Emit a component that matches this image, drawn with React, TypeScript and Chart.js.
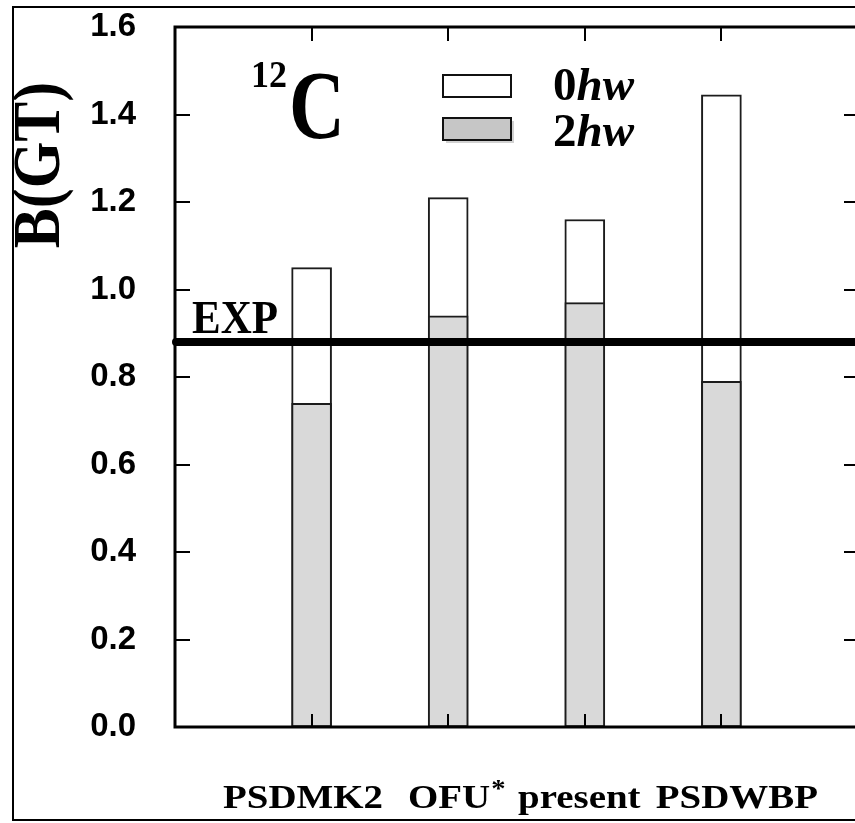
import { useEffect, useRef } from "react";
import { Chart, registerables } from "chart.js";

Chart.register(...registerables);

// Gamow-Teller strength B(GT) for 12C, split into 0hw and 2hw contributions
const categories = ["PSDMK2", "OFU*", "present", "PSDWBP"];
const categoryPositions = [1, 2, 3, 4];
const zeroHwTotal = [1.05, 1.21, 1.16, 1.445];
const twoHwPart = [0.74, 0.94, 0.97, 0.79];
const expValue = 0.88;
const seriesNames = ["0hw", "2hw"];
const yMin = 0;
const yMax = 1.6;
const yStep = 0.2;
const xMin = 0;
const xMax = 5;

const SERIF = '"Liberation Serif", "Times New Roman", serif';
const SANS = '"Liberation Sans", Arial, sans-serif';

function drawScaledText(
  ctx: CanvasRenderingContext2D,
  text: string,
  x: number,
  y: number,
  font: string,
  sx = 1,
  sy = 1,
  align: CanvasTextAlign = "left"
) {
  ctx.save();
  ctx.font = font;
  ctx.textAlign = align;
  ctx.textBaseline = "alphabetic";
  ctx.translate(x, y);
  ctx.scale(sx, sy);
  ctx.fillText(text, 0, 0);
  ctx.restore();
}

// left edges of the category names (last one is right-aligned)
const labelLeft = [223, 408, 518, 0];
const labelRight = [0, 0, 0, 818];

const decorations = {
  id: "decorations",
  afterDatasetsDraw(chart: any) {
    const ctx: CanvasRenderingContext2D = chart.ctx;
    const { left, top, right, bottom } = chart.chartArea;
    const xs = chart.scales.x;
    const ys = chart.scales.y;
    ctx.save();
    ctx.fillStyle = "#000";
    ctx.strokeStyle = "#000";

    // inward ticks
    ctx.lineWidth = 2;
    ctx.beginPath();
    for (const t of ys.ticks) {
      const py = Math.round(ys.getPixelForValue(t.value));
      ctx.moveTo(left, py);
      ctx.lineTo(left + 15, py);
      ctx.moveTo(right, py);
      ctx.lineTo(right - 14, py);
    }
    for (const p of categoryPositions) {
      const px = Math.round(xs.getPixelForValue(p));
      ctx.moveTo(px, top);
      ctx.lineTo(px, top + 14);
      ctx.moveTo(px, bottom);
      ctx.lineTo(px, bottom - 13);
    }
    ctx.stroke();

    // plot frame
    ctx.lineWidth = 3;
    ctx.strokeRect(left, top, right - left, bottom - top);

    // experimental value
    const ey = ys.getPixelForValue(expValue);
    ctx.lineWidth = 8;
    ctx.lineCap = "round";
    ctx.beginPath();
    ctx.moveTo(left + 1, ey);
    ctx.lineTo(chart.width + 10, ey);
    ctx.stroke();
    ctx.lineCap = "butt";
    drawScaledText(ctx, "EXP", 192, 333, `bold 43px ${SERIF}`, 1, 1.1);

    // outer frame
    ctx.lineWidth = 2;
    ctx.strokeRect(13, 7, chart.width + 20, 813);

    // nucleus label
    drawScaledText(ctx, "12", 251, 87, `bold 36px ${SERIF}`, 1, 1.05);
    drawScaledText(ctx, "C", 289, 138, `bold 92px ${SERIF}`, 0.84, 1.05);

    // legend
    const boxes = [
      { y: 75, fill: "#ffffff", shadow: false },
      { y: 118, fill: "#c6c6c6", shadow: true },
    ];
    const baselines = [100, 146];
    boxes.forEach((b, i) => {
      if (b.shadow) {
        ctx.fillStyle = "rgba(0,0,0,0.18)";
        ctx.fillRect(446, b.y + 3, 68, 22);
      }
      ctx.fillStyle = b.fill;
      ctx.fillRect(443, b.y, 68, 22);
      ctx.lineWidth = 2;
      ctx.strokeStyle = "#111";
      ctx.strokeRect(443, b.y, 68, 22);
      ctx.fillStyle = "#000";
      const name = seriesNames[i];
      const lead = name.slice(0, 1);
      const rest = name.slice(1);
      ctx.font = `bold 47px ${SERIF}`;
      const w = ctx.measureText(lead).width;
      drawScaledText(ctx, lead, 553, baselines[i], `bold 47px ${SERIF}`);
      drawScaledText(ctx, rest, 553 + w, baselines[i], `italic bold 47px ${SERIF}`);
    });

    // y axis title
    ctx.save();
    ctx.translate(42, 165);
    ctx.rotate(-Math.PI / 2);
    ctx.scale(1, 1.12);
    ctx.font = `bold 60px ${SERIF}`;
    ctx.textAlign = "center";
    ctx.textBaseline = "middle";
    ctx.fillStyle = "#000";
    ctx.fillText("B(GT)", 0, 0);
    ctx.restore();

    // category names
    const labelFont = `bold 33px ${SERIF}`;
    const sx = 1.18;
    categories.forEach((name, i) => {
      const star = name.endsWith("*");
      const base = star ? name.slice(0, -1) : name;
      ctx.font = labelFont;
      const w = ctx.measureText(base).width * sx;
      let x0 = labelLeft[i];
      if (labelRight[i]) x0 = labelRight[i] - w;
      drawScaledText(ctx, base, x0, 808, labelFont, sx, 1);
      if (star) {
        drawScaledText(ctx, "*", x0 + w + 1, 797, `bold 26px ${SERIF}`, 1.1, 1);
      }
    });

    ctx.restore();
  },
};

export default function App() {
  const canvasRef = useRef<HTMLCanvasElement | null>(null);

  useEffect(() => {
    const canvas = canvasRef.current;
    if (!canvas) return;
    const chart = new Chart(canvas, {
      type: "bar",
      data: {
        datasets: [
          {
            label: seriesNames[1],
            data: categoryPositions.map((x, i) => ({ x, y: twoHwPart[i] })),
            backgroundColor: "#d9d9d9",
            borderColor: "#1c1c1c",
            borderWidth: 2,
            borderSkipped: false,
            barThickness: 40,
            grouped: false,
            order: 0,
          },
          {
            label: seriesNames[0],
            data: categoryPositions.map((x, i) => ({ x, y: zeroHwTotal[i] })),
            backgroundColor: "#ffffff",
            borderColor: "#1c1c1c",
            borderWidth: 2,
            borderSkipped: false,
            barThickness: 40,
            grouped: false,
            order: 1,
          },
        ] as any,
      },
      options: {
        responsive: false,
        animation: false,
        layout: { padding: { left: 0, top: 27, right: 22, bottom: 96 } },
        plugins: {
          legend: { display: false },
          tooltip: { enabled: false },
        },
        scales: {
          x: { type: "linear", min: xMin, max: xMax, offset: false, display: false },
          y: {
            min: yMin,
            max: yMax,
            grid: { display: false, drawTicks: false },
            border: { display: false },
            ticks: {
              stepSize: yStep,
              padding: 39,
              color: "#000",
              font: { family: SANS, size: 33, weight: "bold" },
              callback: (v: any) => Number(v).toFixed(1),
            },
            afterFit: (s: any) => {
              s.width = 175;
              s.paddingTop = 0;
              s.paddingBottom = 0;
            },
          },
        },
      } as any,
      plugins: [decorations],
    });
    return () => chart.destroy();
  }, []);

  return (
    <div
      style={{
        position: "fixed",
        left: 0,
        top: 0,
        width: 855,
        height: 823,
        overflow: "hidden",
        background: "#fff",
      }}
    >
      <canvas ref={canvasRef} width={880} height={823} style={{ display: "block" }} />
    </div>
  );
}
